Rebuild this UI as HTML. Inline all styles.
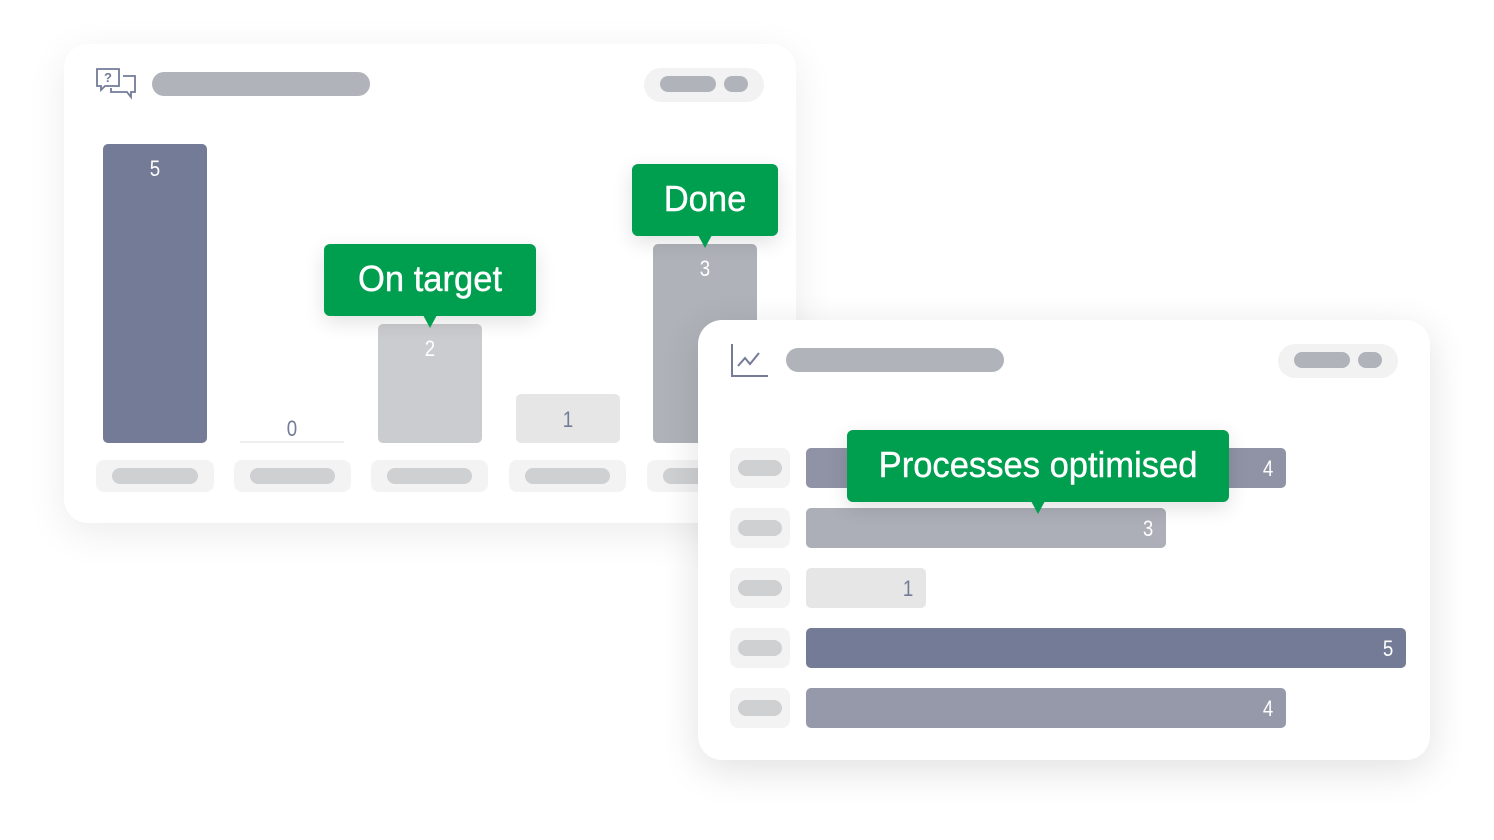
<!DOCTYPE html>
<html><head><style>
body{margin:0;width:1494px;height:840px;background:#fff;position:relative;overflow:hidden;font-family:"Liberation Sans",sans-serif}
div{position:absolute;box-sizing:border-box}
.card{background:#fff;border-radius:24px;box-shadow:0 10px 40px rgba(0,0,0,.08)}
.pill{border-radius:12px;background:#b1b3bb}
.lb{background:#f3f3f4;border-radius:8px}
.li{background:#cfd0d2;border-radius:8px}
.n{font-size:22px;color:#fff;text-align:center;transform:scaleX(.85)}
.tip{background:#009e4f;border-radius:6px;color:#fff;font-size:36px;text-align:center;box-shadow:0 6px 20px rgba(0,0,0,.12)}
.tip span{display:inline-block;transform:scaleX(.96);-webkit-text-stroke:.4px #fff}
.tip:after{content:"";position:absolute;left:50%;bottom:-12px;margin-left:-7px;border-left:7px solid transparent;border-right:7px solid transparent;border-top:13px solid #009e4f}
.bar{border-radius:5px}
.hn{font-size:22px;color:#fff;position:absolute;right:12px;top:8px;transform:scaleX(.85)}
</style></head><body>
<div class="card" style="left:64px;top:44px;width:732px;height:479px"></div>
<svg style="position:absolute;left:95px;top:67px" width="44" height="34" viewBox="0 0 44 34" fill="none" stroke="#737b97" stroke-width="1.8"><path d="M2 2h22v17H10l-4 4v-4H2z"/><path d="M28 9h12v16h-4v5l-4-5H16v-4"/><text x="9" y="15" font-size="13" font-weight="bold" fill="#737b97" stroke="none" font-family="Liberation Sans">?</text></svg>
<div class="pill" style="left:152px;top:72px;width:218px;height:24px"></div>
<div style="left:644px;top:68px;width:120px;height:34px;border-radius:17px;background:#f2f2f3"></div>
<div class="pill" style="left:660px;top:76px;width:56px;height:16px;border-radius:8px"></div>
<div class="pill" style="left:724px;top:76px;width:24px;height:16px;border-radius:8px"></div>

<div class="bar" style="left:103px;top:144px;width:104px;height:299px;background:#737b97"></div>
<div class="n" style="left:103px;top:156px;width:104px">5</div>
<div style="left:240px;top:441px;width:104px;height:2px;background:#eeeef0"></div>
<div class="n" style="left:240px;top:416px;width:104px;color:#737b97">0</div>
<div class="bar" style="left:378px;top:324px;width:104px;height:119px;background:#cbcccf"></div>
<div class="n" style="left:378px;top:336px;width:104px">2</div>
<div class="bar" style="left:516px;top:394px;width:104px;height:49px;background:#e6e6e7"></div>
<div class="n" style="left:516px;top:407px;width:104px;color:#737b97">1</div>
<div class="bar" style="left:653px;top:244px;width:104px;height:199px;background:#b0b2ba"></div>
<div class="n" style="left:653px;top:256px;width:104px">3</div>

<div class="lb" style="left:96px;top:460px;width:118px;height:32px"></div><div class="li" style="left:112px;top:468px;width:86px;height:16px"></div>
<div class="lb" style="left:234px;top:460px;width:117px;height:32px"></div><div class="li" style="left:250px;top:468px;width:85px;height:16px"></div>
<div class="lb" style="left:371px;top:460px;width:117px;height:32px"></div><div class="li" style="left:387px;top:468px;width:85px;height:16px"></div>
<div class="lb" style="left:509px;top:460px;width:117px;height:32px"></div><div class="li" style="left:525px;top:468px;width:85px;height:16px"></div>
<div class="lb" style="left:647px;top:460px;width:117px;height:32px"></div><div class="li" style="left:663px;top:468px;width:85px;height:16px"></div>

<div class="tip" style="left:324px;top:244px;width:212px;height:72px;line-height:70px"><span>On target</span></div>
<div class="tip" style="left:632px;top:164px;width:146px;height:72px;line-height:70px"><span>Done</span></div>

<div class="card" style="left:698px;top:320px;width:732px;height:440px;box-shadow:0 10px 40px rgba(0,0,0,.12)"></div>
<svg style="position:absolute;left:730px;top:343px" width="40" height="36" viewBox="0 0 40 36" fill="none" stroke="#737b97" stroke-width="2"><path d="M2 1v32h36"/><path d="M8 23l7-8 5 6 9-11"/></svg>
<div class="pill" style="left:786px;top:348px;width:218px;height:24px"></div>
<div style="left:1278px;top:344px;width:120px;height:34px;border-radius:17px;background:#f2f2f3"></div>
<div class="pill" style="left:1294px;top:352px;width:56px;height:16px;border-radius:8px"></div>
<div class="pill" style="left:1358px;top:352px;width:24px;height:16px;border-radius:8px"></div>

<div class="lb" style="left:730px;top:448px;width:60px;height:40px"></div><div class="li" style="left:738px;top:460px;width:44px;height:16px"></div>
<div class="lb" style="left:730px;top:508px;width:60px;height:40px"></div><div class="li" style="left:738px;top:520px;width:44px;height:16px"></div>
<div class="lb" style="left:730px;top:568px;width:60px;height:40px"></div><div class="li" style="left:738px;top:580px;width:44px;height:16px"></div>
<div class="lb" style="left:730px;top:628px;width:60px;height:40px"></div><div class="li" style="left:738px;top:640px;width:44px;height:16px"></div>
<div class="lb" style="left:730px;top:688px;width:60px;height:40px"></div><div class="li" style="left:738px;top:700px;width:44px;height:16px"></div>

<div class="bar" style="left:806px;top:448px;width:480px;height:40px;background:#9093a6"><span class="hn">4</span></div>
<div class="bar" style="left:806px;top:508px;width:360px;height:40px;background:#acaeb8"><span class="hn">3</span></div>
<div class="bar" style="left:806px;top:568px;width:120px;height:40px;background:#e6e6e7"><span class="hn" style="color:#737b97">1</span></div>
<div class="bar" style="left:806px;top:628px;width:600px;height:40px;background:#737b97"><span class="hn">5</span></div>
<div class="bar" style="left:806px;top:688px;width:480px;height:40px;background:#9599a9"><span class="hn">4</span></div>

<div class="tip" style="left:847px;top:430px;width:382px;height:72px;line-height:70px"><span>Processes optimised</span></div>
</body></html>
